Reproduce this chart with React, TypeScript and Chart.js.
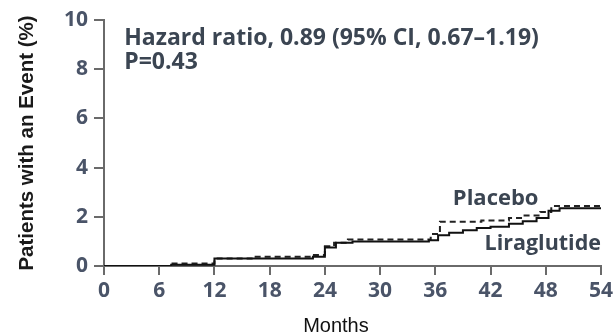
import React, { useEffect, useRef } from "react";
import { Chart, registerables } from "chart.js";

Chart.register(...registerables);

const monthTicks = [0, 6, 12, 18, 24, 30, 36, 42, 48, 54];
const pctTicks = [0, 2, 4, 6, 8, 10];

const placeboMonths = [0, 7.3, 12, 16.2, 22.5, 24, 25, 26.5, 35.5, 36.5, 41, 44, 45.5, 47.4, 48.6, 54];
const placeboPct = [0, 0.1, 0.3, 0.38, 0.45, 0.8, 0.95, 1.08, 1.3, 1.8, 1.85, 1.95, 2.05, 2.2, 2.44, 2.46];

const liraMonths = [0, 7.3, 12, 22.7, 24, 25.2, 27, 35.3, 36.3, 37.5, 39, 40.5, 42, 44, 45.5, 47, 48.3, 49.5, 54];
const liraPct = [0, 0.05, 0.3, 0.38, 0.75, 0.95, 1.0, 1.05, 1.25, 1.35, 1.45, 1.54, 1.6, 1.72, 1.82, 1.95, 2.25, 2.35, 2.36];

const hazardText = "Hazard ratio, 0.89 (95% CI, 0.67\u20131.19)";
const pText = "P=0.43";
const placeboLabel = "Placebo";
const liraLabel = "Liraglutide";
const xTitle = "Months";
const yTitle = "Patients with an Event (%)";

const TEXT_COLOR = "#3b4552";
const TICK_COLOR = "#4a5468";
const AXIS_COLOR = "#6a6a6a";

const textPlugin = {
  id: "annotText",
  afterDraw(chart: any) {
    const ctx = chart.ctx;
    const xs = chart.scales.x;
    const ys = chart.scales.y;
    ctx.save();
    ctx.fillStyle = TEXT_COLOR;
    ctx.textBaseline = "alphabetic";
    ctx.textAlign = "left";
    ctx.font = "bold 23px 'Open Sans'";
    ctx.fillText(hazardText, xs.getPixelForValue(2.2), ys.getPixelForValue(9.0));
    ctx.fillText(pText, xs.getPixelForValue(2.2), ys.getPixelForValue(8.0));
    ctx.font = "bold 22px 'Open Sans'";
    ctx.fillText(placeboLabel, xs.getPixelForValue(37.9), ys.getPixelForValue(2.48));
    ctx.font = "bold 21.5px 'Open Sans'";
    ctx.textAlign = "right";
    ctx.fillText(liraLabel, xs.getPixelForValue(54), ys.getPixelForValue(0.65));
    ctx.fillStyle = "#111";
    ctx.textAlign = "center";
    ctx.font = "20px 'Liberation Sans'";
    ctx.fillText(xTitle, xs.getPixelForValue(25.2), 332);
    ctx.restore();
  },
};

export default function App() {
  const ref = useRef<HTMLCanvasElement | null>(null);
  useEffect(() => {
    if (!ref.current) return;
    const chart = new Chart(ref.current, {
      type: "line",
      data: {
        datasets: [
          {
            label: liraLabel,
            data: liraMonths.map((m, i) => ({ x: m, y: liraPct[i] })),
            borderColor: "#111111",
            borderWidth: 2,
            stepped: true,
            pointRadius: 0,
            fill: false,
          },
          {
            label: placeboLabel,
            data: placeboMonths.map((m, i) => ({ x: m, y: placeboPct[i] })),
            borderColor: "#222222",
            borderWidth: 2,
            borderDash: [6, 4],
            stepped: true,
            pointRadius: 0,
            fill: false,
          },
        ],
      },
      options: {
        animation: false,
        responsive: false,
        maintainAspectRatio: false,
        layout: { padding: { top: 20, right: 15, left: 0, bottom: 0 } },
        plugins: { legend: { display: false }, tooltip: { enabled: false } },
        scales: {
          x: {
            type: "linear",
            min: 0,
            max: 54,
            afterFit: (s: any) => {
              s.height = 68;
            },
            afterBuildTicks: (s: any) => {
              s.ticks = monthTicks.map((v) => ({ value: v }));
            },
            grid: { display: true, drawOnChartArea: false, drawTicks: true, tickLength: 9, color: AXIS_COLOR, lineWidth: 2 },
            border: { display: true, color: AXIS_COLOR, width: 2 },
            ticks: { color: TICK_COLOR, font: { family: "'Open Sans'", size: 21, weight: "bold" }, padding: 3, maxRotation: 0, autoSkip: false },
          },
          y: {
            type: "linear",
            min: 0,
            max: 10,
            afterFit: (s: any) => {
              s.width = 104;
            },
            afterBuildTicks: (s: any) => {
              s.ticks = pctTicks.map((v) => ({ value: v }));
            },
            grid: { display: true, drawOnChartArea: false, drawTicks: true, tickLength: 10, color: AXIS_COLOR, lineWidth: 2 },
            border: { display: true, color: AXIS_COLOR, width: 2 },
            ticks: { color: TICK_COLOR, font: { family: "'Open Sans'", size: 21, weight: "bold" }, padding: 6, autoSkip: false },
            title: {
              display: true,
              text: yTitle,
              color: "#1a1a1a",
              font: { family: "'Liberation Sans'", size: 20.5, weight: "bold" },
              padding: { top: 15, bottom: 0 },
            },
          },
        },
      },
      plugins: [textPlugin],
    });
    return () => chart.destroy();
  }, []);
  return (
    <div style={{ position: "fixed", left: 0, top: 0, width: 616, height: 334, background: "#fff" }}>
      <canvas ref={ref} width={616} height={334} style={{ width: 616, height: 334, display: "block" }} />
    </div>
  );
}
